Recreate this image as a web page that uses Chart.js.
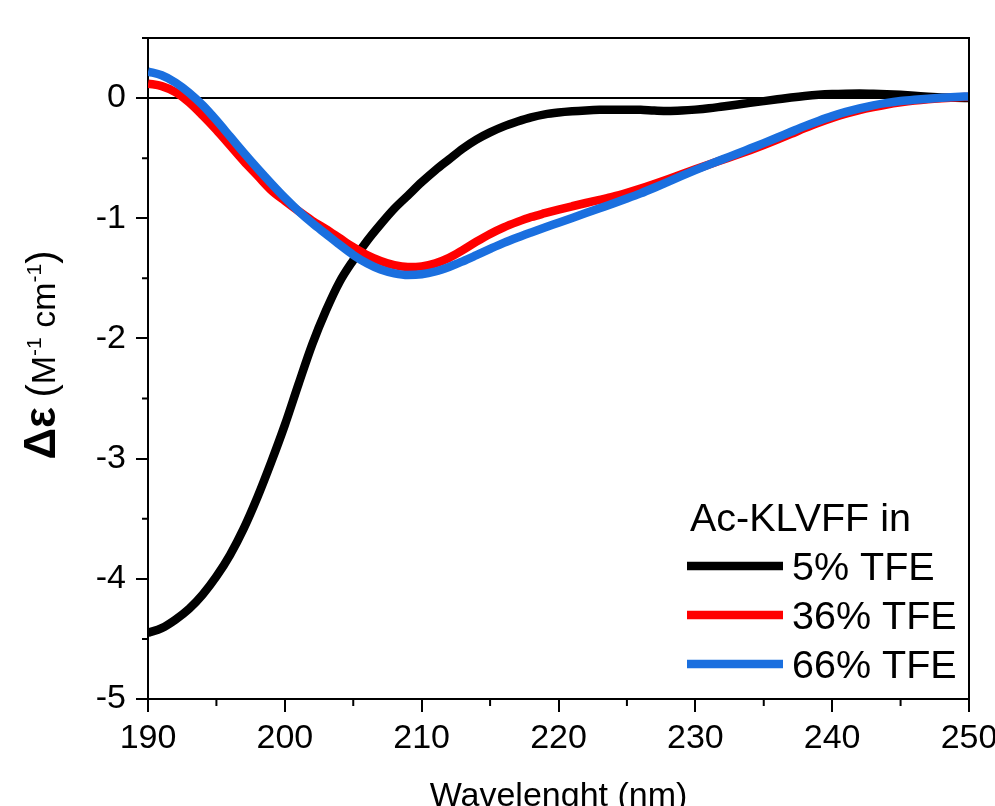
<!DOCTYPE html>
<html><head><meta charset="utf-8">
<script src="https://cdn.jsdelivr.net/npm/chart.js@4/dist/chart.umd.min.js"></script>
<style>html,body{margin:0;padding:0;background:#fff;overflow:hidden}</style>
</head><body>
<canvas id="c" width="995" height="806"></canvas>
<script>
const wavelengths = [190,191,192,193,194,195,196,197,198,199,200,201,202,203,204,205,206,207,208,209,210,211,212,213,214,215,216,217,218,219,220,221,222,223,224,225,226,227,228,229,230,231,232,233,234,235,236,237,238,239,240,241,242,243,244,245,246,247,248,249,250];
const tfe5 = [-4.45,-4.41,-4.34,-4.25,-4.13,-3.98,-3.80,-3.58,-3.32,-3.03,-2.72,-2.38,-2.05,-1.77,-1.53,-1.35,-1.19,-1.05,-0.92,-0.81,-0.70,-0.60,-0.51,-0.42,-0.345,-0.285,-0.235,-0.195,-0.16,-0.135,-0.12,-0.11,-0.103,-0.098,-0.096,-0.096,-0.098,-0.104,-0.108,-0.104,-0.096,-0.085,-0.07,-0.055,-0.04,-0.025,-0.01,0.005,0.018,0.028,0.034,0.037,0.038,0.036,0.032,0.027,0.02,0.012,0.006,0.002,0.0];
const tfe36 = [0.12,0.10,0.05,-0.035,-0.145,-0.265,-0.395,-0.525,-0.645,-0.765,-0.855,-0.94,-1.02,-1.09,-1.165,-1.24,-1.305,-1.355,-1.39,-1.405,-1.40,-1.375,-1.33,-1.265,-1.195,-1.13,-1.075,-1.03,-0.99,-0.958,-0.928,-0.90,-0.873,-0.847,-0.82,-0.788,-0.753,-0.715,-0.675,-0.633,-0.592,-0.552,-0.513,-0.474,-0.433,-0.39,-0.345,-0.298,-0.25,-0.205,-0.165,-0.13,-0.10,-0.075,-0.053,-0.035,-0.02,-0.009,-0.001,0.005,0.01];
const tfe66 = [0.22,0.19,0.13,0.045,-0.06,-0.185,-0.32,-0.455,-0.585,-0.71,-0.83,-0.94,-1.04,-1.13,-1.22,-1.305,-1.375,-1.427,-1.458,-1.472,-1.466,-1.443,-1.405,-1.358,-1.307,-1.255,-1.205,-1.16,-1.118,-1.077,-1.037,-0.997,-0.957,-0.917,-0.877,-0.836,-0.793,-0.746,-0.697,-0.648,-0.60,-0.554,-0.509,-0.465,-0.42,-0.375,-0.328,-0.28,-0.233,-0.19,-0.15,-0.115,-0.085,-0.06,-0.04,-0.025,-0.014,-0.005,0.003,0.009,0.014];
const seriesLabels = ['5% TFE','36% TFE','66% TFE'];
const seriesColors = ['#000000','#ff0000','#1a6fdf'];
const legendTitle = 'Ac-KLVFF in';
const xTicks = [190,200,210,220,230,240,250];
const yTicks = [-5,-4,-3,-2,-1,0];
const xMinor = [195,205,215,225,235,245];
const yMinor = [-4.5,-3.5,-2.5,-1.5,-0.5,0.5];
const xTitle = 'Wavelenght (nm)';

const FONT = '"Liberation Sans", Arial, Helvetica, sans-serif';
const seriesValues = [tfe5, tfe36, tfe66];

const datasets = seriesValues.map((vals, i) => ({
  label: seriesLabels[i],
  data: wavelengths.map((w, j) => ({x: w, y: vals[j]})),
  borderColor: seriesColors[i],
  backgroundColor: seriesColors[i],
  borderWidth: 8.5,
  pointRadius: 0,
  cubicInterpolationMode: 'monotone',
  order: 3 - i
}));

const decorations = {
  id: 'decorations',
  beforeDatasetsDraw(chart) {
    const {ctx, chartArea: a, scales: {y}} = chart;
    const y0 = y.getPixelForValue(0);
    ctx.save();
    ctx.strokeStyle = '#000'; ctx.lineWidth = 2;
    ctx.beginPath(); ctx.moveTo(a.left, y0); ctx.lineTo(a.right, y0); ctx.stroke();
    ctx.restore();
  },
  afterDraw(chart) {
    const {ctx, chartArea: a, scales: {x, y}} = chart;
    ctx.save();
    ctx.strokeStyle = '#000'; ctx.lineWidth = 2;
    ctx.beginPath();
    ctx.moveTo(a.left, a.top); ctx.lineTo(a.right, a.top); ctx.lineTo(a.right, a.bottom);
    ctx.stroke();
    ctx.beginPath();
    xMinor.forEach(v => { const px = x.getPixelForValue(v); ctx.moveTo(px, a.bottom); ctx.lineTo(px, a.bottom + 7); });
    yMinor.forEach(v => { const py = y.getPixelForValue(v); ctx.moveTo(a.left, py); ctx.lineTo(a.left - 6, py); });
    ctx.stroke();

    // legend
    ctx.fillStyle = '#000';
    ctx.textBaseline = 'alphabetic';
    ctx.textAlign = 'left';
    ctx.font = '39.5px ' + FONT;
    ctx.fillText(legendTitle, 690, 531);
    const rowsY = [566, 615, 664];
    seriesLabels.forEach((lab, i) => {
      ctx.strokeStyle = seriesColors[i];
      ctx.lineWidth = 8.5;
      ctx.beginPath(); ctx.moveTo(687, rowsY[i]); ctx.lineTo(783, rowsY[i]); ctx.stroke();
      ctx.fillStyle = '#000';
      ctx.fillText(lab, 792, rowsY[i] + 14);
    });

    // x title
    ctx.textAlign = 'center';
    ctx.font = '34px ' + FONT;
    ctx.fillText(xTitle, (a.left + a.right) / 2, 806);

    // y title
    const parts = [
      {t: 'Δε', f: 'bold 44px ' + FONT, dy: 0},
      {t: ' ', f: '34px ' + FONT, dy: 0},
      {t: '(', f: '40px ' + FONT, dy: 0},
      {t: 'M', f: '34px ' + FONT, dy: 0},
      {t: '-1', f: '21px ' + FONT, dy: -14},
      {t: ' cm', f: '34px ' + FONT, dy: 0},
      {t: '-1', f: '21px ' + FONT, dy: -14},
      {t: ')', f: '40px ' + FONT, dy: 0}
    ];
    let total = 0;
    parts.forEach(p => { ctx.font = p.f; p.w = ctx.measureText(p.t).width; total += p.w; });
    ctx.translate(55, 355);
    ctx.rotate(-Math.PI / 2);
    ctx.textAlign = 'left';
    let cx = -total / 2;
    parts.forEach(p => { ctx.font = p.f; ctx.fillText(p.t, cx, p.dy); cx += p.w; });
    ctx.restore();
  }
};

new Chart(document.getElementById('c'), {
  type: 'line',
  data: {datasets},
  options: {
    responsive: false,
    animation: false,
    devicePixelRatio: 1,
    layout: {padding: {top: 38, right: 26, left: 0, bottom: 0}},
    plugins: {legend: {display: false}, tooltip: {enabled: false}, title: {display: false}},
    scales: {
      x: {
        type: 'linear', min: 190, max: 250,
        afterBuildTicks: s => { s.ticks = xTicks.map(v => ({value: v})); },
        afterFit: s => { s.height = 107; s.paddingLeft = 0; s.paddingRight = 0; },
        ticks: {color: '#000', font: {family: FONT, size: 34}, padding: 6, maxRotation: 0, autoSkip: false,
                callback: v => String(v)},
        grid: {display: true, drawOnChartArea: false, drawTicks: true, tickLength: 13, color: '#000', lineWidth: 2},
        border: {display: true, color: '#000', width: 2}
      },
      y: {
        type: 'linear', min: -5, max: 0.5,
        afterBuildTicks: s => { s.ticks = yTicks.map(v => ({value: v})); },
        afterFit: s => { s.width = 148; s.paddingTop = 0; s.paddingBottom = 0; },
        ticks: {color: '#000', font: {family: FONT, size: 34}, padding: 10, autoSkip: false,
                callback: v => String(v)},
        grid: {display: true, drawOnChartArea: false, drawTicks: true, tickLength: 12, color: '#000', lineWidth: 2},
        border: {display: true, color: '#000', width: 2}
      }
    }
  },
  plugins: [decorations]
});
</script>
</body></html>
